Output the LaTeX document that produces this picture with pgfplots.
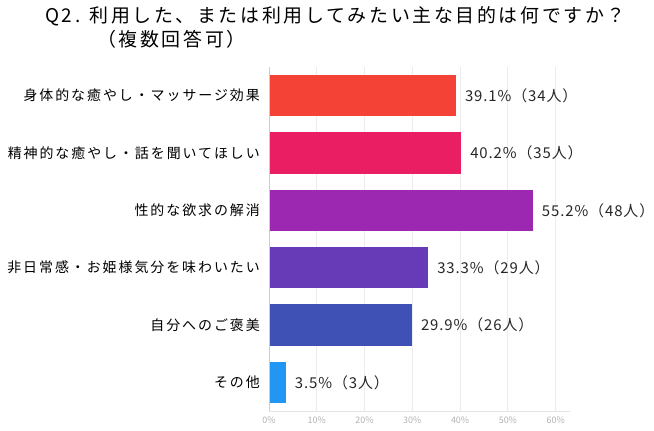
\documentclass[border=0pt]{standalone}
\usepackage{pgfplots}
\pgfplotsset{compat=1.18}
\usepackage{fontspec}
\setmainfont{Noto Sans CJK JP}
\newfontfamily\catfont[LetterSpace=14]{Noto Sans CJK JP}
\newfontfamily\titlefont[LetterSpace=14]{Noto Sans CJK JP}
\newfontfamily\valfont[LetterSpace=6]{Noto Sans CJK JP}
\definecolor{c1}{HTML}{2196F3}
\definecolor{c2}{HTML}{3F51B5}
\definecolor{c3}{HTML}{673AB7}
\definecolor{c4}{HTML}{9C27B0}
\definecolor{c5}{HTML}{E91E63}
\definecolor{c6}{HTML}{F44336}
\begin{document}
\begin{tikzpicture}
\useasboundingbox (0bp,0bp) rectangle (654bp,431bp);
\node[anchor=west, font=\titlefont\fontsize{19}{22}\selectfont, inner sep=0pt] at (45bp,415bp) {Q2. 利用した、または利用してみたい主な目的は何ですか？};
\node[anchor=west, font=\titlefont\fontsize{19}{22}\selectfont, inner sep=0pt] at (97bp,392bp) {（複数回答可）};
\begin{axis}[
  at={(269bp,20bp)}, anchor=south west,
  scale only axis, width=301bp, height=344bp,
  xmin=0, xmax=63, ymin=-0.5, ymax=5.5,
  xbar, bar width=0.72, bar shift=0pt,
  ytick={0,...,5},
  yticklabels={その他,自分へのご褒美,非日常感・お姫様気分を味わいたい,性的な欲求の解消,精神的な癒やし・話を聞いてほしい,身体的な癒やし・マッサージ効果},
  yticklabel style={font=\catfont\fontsize{14}{16}\selectfont, inner sep=0pt, xshift=-9bp},
  xtick={0,10,...,60},
  xticklabel={\pgfmathprintnumber{\tick}\%},
  xticklabel style={font=\fontsize{9}{10}\selectfont, text=gray!60, yshift=-2bp},
  /pgf/number format/assume math mode=true,
  major tick length=0pt,
  xmajorgrids, grid style={gray!15, line width=0.8pt},
  axis line style={draw=none},
  nodes near coords, point meta=explicit symbolic,
  nodes near coords style={font=\valfont\fontsize{15}{17}\selectfont, anchor=west, inner sep=0pt, xshift=9bp, text=black!85},
  clip=false,
]
\addplot[fill=c1, draw=none] coordinates {(3.5,0) [3.5\%（3人）]};
\addplot[fill=c2, draw=none] coordinates {(29.9,1) [29.9\%（26人）]};
\addplot[fill=c3, draw=none] coordinates {(33.3,2) [33.3\%（29人）]};
\addplot[fill=c4, draw=none] coordinates {(55.2,3) [55.2\%（48人）]};
\addplot[fill=c5, draw=none] coordinates {(40.2,4) [40.2\%（35人）]};
\addplot[fill=c6, draw=none] coordinates {(39.1,5) [39.1\%（34人）]};
\draw[gray!40, line width=0.8pt] (axis cs:0,-0.5) -- (axis cs:0,5.5);
\draw[gray!20, line width=0.8pt] (axis cs:0,-0.5) -- (axis cs:63,-0.5);
\end{axis}
\end{tikzpicture}
\end{document}
